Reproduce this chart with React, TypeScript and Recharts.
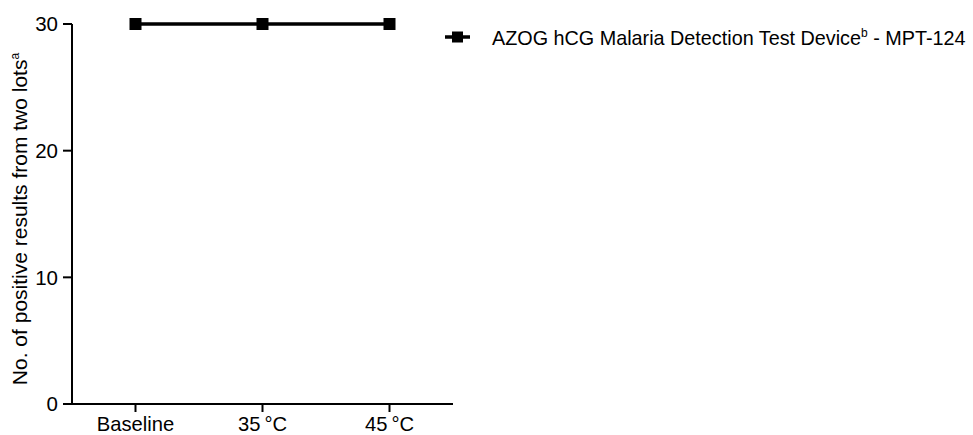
import React from 'react';
import { LineChart, Line, XAxis, YAxis, Legend, Label } from 'recharts';

const categories: string[] = ['Baseline', '35\u2009°C', '45\u2009°C'];
const positiveResults: number[] = [30, 30, 30];
const yTicks: number[] = [0, 10, 20, 30];
const seriesName = 'AZOG hCG Malaria Detection Test Device';
const seriesSup = 'b';
const seriesSuffix = ' - MPT-124';
const yLabel = 'No. of positive results from two lots';
const yLabelSup = 'a';

const data = categories.map((c, i) => ({ cat: c, value: positiveResults[i] }));

const FONT = '"Liberation Sans", Arial, Helvetica, sans-serif';

const SquareDot = (props: any) => {
  const { cx, cy, index } = props;
  if (cx == null || cy == null) return null;
  return <rect key={`dot-${index}`} x={cx - 6} y={cy - 6} width={12} height={12} fill="#000" />;
};

const LegendContent = () => (
  <svg width={530} height={32} style={{ display: 'block' }}>
    <line x1={5} y1={15} x2={30} y2={15} stroke="#000" strokeWidth={3.5} />
    <rect x={12} y={9.5} width={11} height={11} fill="#000" />
    <text x={52} y={22.5} fontFamily={FONT} fontSize={19.8} fill="#000">
      {seriesName}
      <tspan dy={-8} fontSize={12}>{seriesSup}</tspan>
      <tspan dy={8}>{seriesSuffix}</tspan>
    </text>
  </svg>
);

const YLabelContent = (props: any) => {
  const vb = props.viewBox || {};
  const cx = (vb.x ?? 0) + 27;
  const cy = (vb.y ?? 0) + (vb.height ?? 0) / 2 + 5;
  return (
    <text
      x={cx}
      y={cy}
      transform={`rotate(-90, ${cx}, ${cy})`}
      textAnchor="middle"
      fontFamily={FONT}
      fontSize={21}
      fill="#000"
    >
      {yLabel}
      <tspan dy={-8} fontSize={12}>{yLabelSup}</tspan>
    </text>
  );
};

export default function App() {
  return (
    <div style={{ position: 'absolute', left: 0, top: 0 }}>
      <LineChart
        width={973}
        height={435}
        data={data}
        margin={{ top: 24, right: 520, bottom: 1, left: 0 }}
      >
        <XAxis
          dataKey="cat"
          padding={{ left: 63.5, right: 63.5 }}
          axisLine={{ stroke: '#000', strokeWidth: 2 }}
          tickLine={{ stroke: '#000', strokeWidth: 2 }}
          tickSize={8}
          tickMargin={5}
          height={30}
          tick={{ fill: '#000', fontSize: 20.2, fontFamily: FONT }}
          interval={0}
        />
        <YAxis
          domain={[0, 30]}
          ticks={yTicks}
          width={72}
          axisLine={{ stroke: '#000', strokeWidth: 2 }}
          tickLine={{ stroke: '#000', strokeWidth: 2 }}
          tickSize={9}
          tickMargin={5}
          tick={{ fill: '#000', fontSize: 20.5, fontFamily: FONT }}
        >
          <Label content={<YLabelContent />} />
        </YAxis>
        <Legend
          layout="horizontal"
          verticalAlign="middle"
          align="center"
          wrapperStyle={{ position: 'absolute', left: 440, top: 22, width: 530 }}
          content={<LegendContent />}
        />
        <Line
          type="linear"
          dataKey="value"
          name={seriesName}
          stroke="#000"
          strokeWidth={3.5}
          dot={<SquareDot />}
          activeDot={false}
          isAnimationActive={false}
        />
      </LineChart>
    </div>
  );
}
